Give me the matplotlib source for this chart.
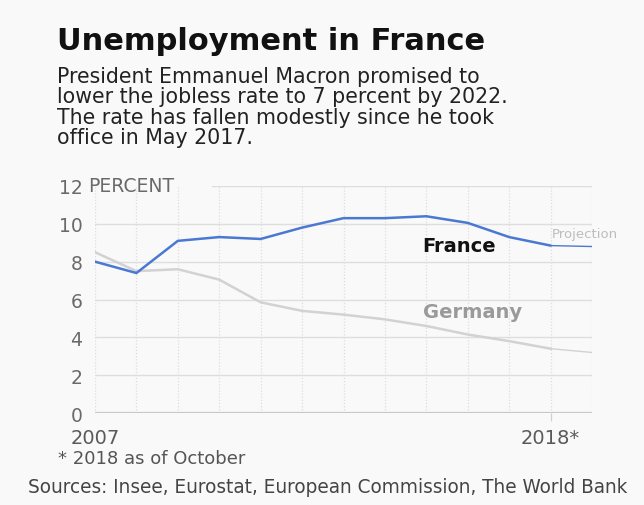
import matplotlib
matplotlib.use('Agg')
import matplotlib.pyplot as plt

years = list(range(2007, 2020))
france = [8.0, 7.4, 9.1, 9.3, 9.2, 9.8, 10.3, 10.3, 10.4, 10.05, 9.3, 8.85, 8.8]
germany = [8.5, 7.5, 7.6, 7.05, 5.85, 5.4, 5.2, 4.95, 4.6, 4.15, 3.8, 3.4, 3.2]
proj_year = 2018
yticks = [0, 2, 4, 6, 8, 10, 12]
xtick_vals = [2007, 2018]
xtick_labels = ['2007', '2018*']

title = 'Unemployment in France'
subtitle = ['President Emmanuel Macron promised to',
            'lower the jobless rate to 7 percent by 2022.',
            'The rate has fallen modestly since he took',
            'office in May 2017.']
footnote = '* 2018 as of October'
sources = 'Sources: Insee, Eurostat, European Commission, The World Bank'

plt.rcParams['font.family'] = ['DejaVu Sans']
W, H = 644, 506
bg = '#f9f9f9'
fig = plt.figure(figsize=(W / 100, H / 100), dpi=100, facecolor=bg)
ax = fig.add_axes([95 / W, 1 - 414 / H, (592 - 95) / W, (414 - 187) / H])
ax.set_facecolor(bg)

pi = years.index(proj_year)
blue = '#4a78d2'
grey_line = '#d2d2d2'
ax.plot(years[:pi + 1], france[:pi + 1], color=blue, lw=1.8, zorder=4, solid_capstyle='round')
ax.plot(years[pi:], france[pi:], color=blue, lw=1.0, zorder=4)
ax.plot(years[:pi + 1], germany[:pi + 1], color=grey_line, lw=1.8, zorder=3)
ax.plot(years[pi:], germany[pi:], color=grey_line, lw=1.0, zorder=3)

ax.set_xlim(2007, 2019)
ax.set_ylim(0, 12)
for s in ax.spines.values():
    s.set_visible(False)

for y in yticks[1:-1]:
    ax.axhline(y, color='#dedede', lw=1.0, zorder=1)
ax.axhline(12, xmin=0.235, color='#dedede', lw=1.0, zorder=1)
ax.axhline(0, color='#c8c8c8', lw=1.6, zorder=2)
for x in years:
    ax.axvline(x, color='#dddddd', lw=0.9, ls=(0, (1, 1.5)), zorder=1)

ax.set_yticks(yticks)
ax.set_yticklabels([str(v) for v in yticks])
ax.tick_params(axis='y', length=0, pad=9, labelsize=13.5, labelcolor='#6a6a6a')
ax.set_xticks(xtick_vals)
ax.set_xticklabels(xtick_labels)
ax.tick_params(axis='x', length=6, width=0.9, color='#cfcfcf', pad=5,
               labelsize=14, labelcolor='#5a5a5a')
ax.get_xticklines()[0].set_visible(False)
ax.text(2007 - 0.17, 12, 'PERCENT', fontsize=13.5, color='#6a6a6a', va='center', ha='left',
        transform=ax.transData)

ax.text(2015.78, 8.84, 'France', fontsize=14, fontweight='bold', color='#111111', va='center', ha='center')
ax.text(2016.12, 5.37, 'Germany', fontsize=14, fontweight='bold', color='#9a9a9a', va='center', ha='center')
ax.text(2018.83, 9.5, 'Projection', fontsize=9.5, color='#bdbdbd', va='center', ha='center', clip_on=False)

def ftext(x, y, s, **kw):
    return fig.text(x / W, 1 - y / H, s, **kw)

r = fig.canvas.get_renderer()

def fit(t, width):
    w = t.get_window_extent(r).width
    t.set_fontsize(t.get_fontsize() * width / w)

t = ftext(57, 50, title, fontsize=18, fontweight='bold', color='#111111', va='baseline')
fit(t, 430)
for i, s in enumerate(subtitle):
    ftext(57, 83 + 20.4 * i, s, fontsize=14.8, color='#222222', va='baseline')

t = ftext(58, 464, footnote, fontsize=10, color='#555555', va='baseline')
fit(t, 188)
t = ftext(28, 493, sources, fontsize=10, color='#444444', va='baseline')
fit(t, 600)

fig.savefig('out.png', dpi=100, facecolor=bg)
